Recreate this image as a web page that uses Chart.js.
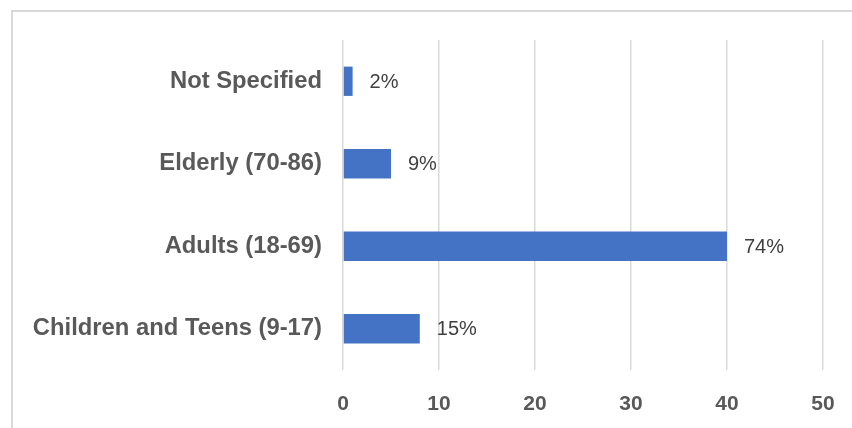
<!DOCTYPE html>
<html>
<head>
<meta charset="utf-8">
<script src="https://cdn.jsdelivr.net/npm/chart.js@4/dist/chart.umd.min.js"></script>
<style>
  html, body { margin: 0; padding: 0; background: #ffffff; }
  #wrap { position: relative; width: 852px; height: 428px; }
</style>
</head>
<body>
<div id="wrap"><canvas id="c" width="852" height="428"></canvas></div>
<script>
const categories = ['Not Specified', 'Elderly (70-86)', 'Adults (18-69)', 'Children and Teens (9-17)'];
const values = [1, 5, 40, 8];
const valueLabels = ['2%', '9%', '74%', '15%'];
const xTicks = [0, 10, 20, 30, 40, 50];

const framePlugin = {
  id: 'frame',
  beforeDraw(chart) {
    const ctx = chart.ctx;
    ctx.save();
    ctx.fillStyle = '#ffffff';
    ctx.fillRect(0, 0, chart.width, chart.height);
    ctx.strokeStyle = '#d9d9d9';
    ctx.lineWidth = 2;
    ctx.strokeRect(12, 11, 1000, 1000);
    ctx.restore();
  }
};

const valueLabelPlugin = {
  id: 'valueLabels',
  afterDatasetsDraw(chart) {
    const ctx = chart.ctx;
    const meta = chart.getDatasetMeta(0);
    ctx.save();
    ctx.font = '20px "Liberation Sans", Arial, sans-serif';
    ctx.fillStyle = '#404040';
    ctx.textAlign = 'left';
    ctx.textBaseline = 'middle';
    meta.data.forEach((bar, i) => {
      ctx.fillText(valueLabels[i], bar.x + 17, bar.y + 1);
    });
    ctx.restore();
  }
};

new Chart(document.getElementById('c'), {
  type: 'bar',
  data: {
    labels: categories,
    datasets: [{
      data: values,
      backgroundColor: '#4472C4',
      borderWidth: 0,
      barPercentage: 0.355,
      categoryPercentage: 1.0
    }]
  },
  options: {
    indexAxis: 'y',
    responsive: false,
    animation: false,
    devicePixelRatio: 1,
    layout: { padding: { left: 0, right: 29, top: 40, bottom: 0 } },
    plugins: {
      legend: { display: false },
      tooltip: { enabled: false }
    },
    scales: {
      x: {
        min: 0,
        max: 50,
        afterBuildTicks(scale) { scale.ticks = xTicks.map(v => ({ value: v })); },
        afterFit(scale) {
          scale.height = 58;
          scale.paddingLeft = 0;
          scale.paddingRight = 0;
        },
        grid: { color: '#d9d9d9', lineWidth: 1.5, drawTicks: false },
        border: { display: false },
        ticks: {
          padding: 22,
          color: '#595959',
          font: { family: '"Liberation Sans", Arial, sans-serif', size: 21, weight: 'bold' }
        }
      },
      y: {
        afterFit(scale) {
          scale.width = 343;
          scale.paddingTop = 0;
          scale.paddingBottom = 0;
        },
        grid: { display: false, drawTicks: false },
        border: { display: false },
        ticks: {
          padding: 21,
          color: '#595959',
          font: { family: '"Liberation Sans", Arial, sans-serif', size: 23.8, weight: 'bold' }
        }
      }
    }
  },
  plugins: [framePlugin, valueLabelPlugin]
});
</script>
</body>
</html>
